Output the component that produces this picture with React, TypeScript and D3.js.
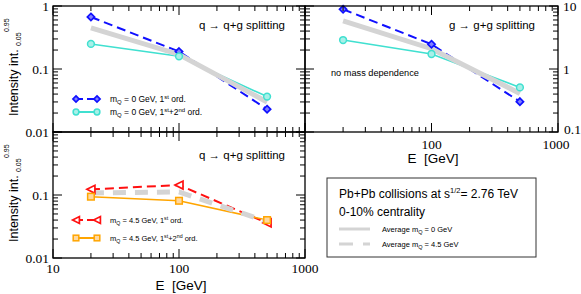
import React from "react";
import * as d3 from "d3";

const energies = [20, 100, 500];
const qgFirst = [0.67, 0.189, 0.023];
const qgFull = [0.25, 0.159, 0.0365];
const qgAvg = [0.45, 0.17, 0.03];
const ggFirst = [8.87, 2.47, 0.303];
const ggFull = [2.88, 1.73, 0.51];
const ggAvg = [5.8, 2.1, 0.41];
const hqFirst = [0.123, 0.144, 0.036];
const hqFull = [0.094, 0.081, 0.04];
const hqAvg = [0.108, 0.112, 0.038];

const xTickLabels = ["10", "100", "1000"];
const yTickLabelsQ = ["0.01", "0.1", "1"];
const yTickLabelsG = ["0.1", "1", "10"];

const SANS = "Liberation Sans, Arial, sans-serif";
const SERIF = "Liberation Serif, Times New Roman, serif";
const BLUE = "#1010ff";
const CYAN = "#40e0d0";
const RED = "#ff1010";
const ORANGE = "#ffa500";
const GRAY = "#d4d4d4";

type Box = { x0: number; x1: number; y0: number; y1: number; ylo: number; yhi: number };

function logTicks(lo: number, hi: number) {
  const major: number[] = [];
  const minor: number[] = [];
  for (let d = Math.round(Math.log10(lo)); d <= Math.round(Math.log10(hi)); d++) {
    const base = Math.pow(10, d);
    major.push(base);
    if (base < hi) for (let k = 2; k <= 9; k++) minor.push(base * k);
  }
  return { major, minor };
}

function Frame({ b }: { b: Box }) {
  const x = d3.scaleLog().domain([10, 1000]).range([b.x0, b.x1]);
  const y = d3.scaleLog().domain([b.ylo, b.yhi]).range([b.y1, b.y0]);
  const xt = logTicks(10, 1000);
  const yt = logTicks(b.ylo, b.yhi);
  const M = 9, m = 5;
  const lines: JSX.Element[] = [];
  const push = (k: string, x1: number, y1: number, x2: number, y2: number) =>
    lines.push(<line key={k} x1={x1} y1={y1} x2={x2} y2={y2} stroke="#000" strokeWidth={1} />);
  xt.major.concat(xt.minor).forEach((v, i) => {
    const L = xt.major.includes(v) ? M : m;
    const px = x(v);
    push("xb" + i, px, b.y1, px, b.y1 - L);
    push("xt" + i, px, b.y0, px, b.y0 + L);
  });
  yt.major.concat(yt.minor).forEach((v, i) => {
    const L = yt.major.includes(v) ? M : m;
    const py = y(v);
    push("yl" + i, b.x0, py, b.x0 + L, py);
    push("yr" + i, b.x1, py, b.x1 - L, py);
  });
  return (
    <g>
      <rect x={b.x0} y={b.y0} width={b.x1 - b.x0} height={b.y1 - b.y0} fill="none" stroke="#000" strokeWidth={1.3} />
      {lines}
    </g>
  );
}

function Marker({ kind, cx, cy, color, k = 1 }: { kind: string; cx: number; cy: number; color: string; k?: number }) {
  if (kind === "diamond") {
    const s = 3.6 * k;
    return <polygon points={`${cx},${cy - s} ${cx + s},${cy} ${cx},${cy + s} ${cx - s},${cy}`} fill="#8080ff" stroke={color} strokeWidth={1.7} />;
  }
  if (kind === "circle") return <circle cx={cx} cy={cy} r={3.4 * k} fill="#a8f0e8" stroke={color} strokeWidth={1.5} />;
  if (kind === "tri") {
    const s = 4 * k;
    return <polygon points={`${cx - s},${cy} ${cx + s},${cy - s} ${cx + s},${cy + s}`} fill="#fff" stroke={color} strokeWidth={1.7} />;
  }
  const s = 3.3 * k;
  return <rect x={cx - s} y={cy - s} width={2 * s} height={2 * s} fill="#ffd8a0" stroke={color} strokeWidth={1.5} />;
}

function Series({ b, vals, color, dash, width, marker }: { b: Box; vals: number[]; color: string; dash?: string; width: number; marker?: string }) {
  const x = d3.scaleLog().domain([10, 1000]).range([b.x0, b.x1]);
  const y = d3.scaleLog().domain([b.ylo, b.yhi]).range([b.y1, b.y0]);
  const pts: [number, number][] = energies.map((e, i) => [x(e), y(vals[i])]);
  const line = d3.line()(pts) || "";
  return (
    <g>
      {width > 0 && <path d={line} fill="none" stroke={color} strokeWidth={width} strokeDasharray={dash} />}
      {marker && pts.map((p, i) => <Marker key={i} kind={marker} cx={p[0]} cy={p[1]} color={color} />)}
    </g>
  );
}

function Legend({ x0, x1, yy, tx, color, dash, marker, mass, order, fs }: any) {
  return (
    <g>
      <line x1={x0} x2={x1} y1={yy} y2={yy} stroke={color} strokeWidth={2} strokeDasharray={dash} />
      <Marker kind={marker} cx={x0} cy={yy} color={color} k={0.85} />
      <Marker kind={marker} cx={x1} cy={yy} color={color} k={0.85} />
      <text x={tx} y={yy + 3} fontFamily={SANS} fontSize={fs} fill="#000">
        <tspan>m</tspan>
        <tspan dy={2} fontSize={fs * 0.7}>Q</tspan>
        <tspan dy={-2}>{` = ${mass} GeV, 1`}</tspan>
        <tspan dy={-3.5} fontSize={fs * 0.7}>st</tspan>
        {order === 2 ? (
          <>
            <tspan dy={3.5}>+2</tspan>
            <tspan dy={-3.5} fontSize={fs * 0.7}>nd</tspan>
            <tspan dy={3.5}> ord.</tspan>
          </>
        ) : (
          <tspan dy={3.5}> ord.</tspan>
        )}
      </text>
    </g>
  );
}

function YLabel({ yStart }: { yStart: number }) {
  return (
    <g>
      <text transform={`translate(18,${yStart}) rotate(-90)`} fontFamily={SANS} fontSize={12.5}>Intensity int.</text>
      <text transform={`translate(20.5,${yStart - 70}) rotate(-90)`} fontFamily={SANS} fontSize={7}>0.05</text>
      <text transform={`translate(8.5,${yStart - 84}) rotate(-90)`} fontFamily={SANS} fontSize={7}>0.95</text>
    </g>
  );
}

export default function App() {
  const tl: Box = { x0: 53, x1: 305, y0: 6, y1: 132, ylo: 0.01, yhi: 1 };
  const tr: Box = { x0: 305, x1: 558, y0: 6, y1: 132, ylo: 0.1, yhi: 10 };
  const bl: Box = { x0: 53, x1: 305, y0: 132, y1: 258, ylo: 0.01, yhi: 1 };
  const xs = (b: Box) => d3.scaleLog().domain([10, 1000]).range([b.x0, b.x1]);
  const ys = (b: Box) => d3.scaleLog().domain([b.ylo, b.yhi]).range([b.y1, b.y0]);
  const yvals = [0.01, 0.1, 1];
  const gvals = [0.1, 1, 10];
  const xvals = [10, 100, 1000];
  return (
    <svg width={581} height={294} style={{ position: "absolute", left: 0, top: 0, background: "#fff" }}>
      <rect width={581} height={294} fill="#fff" />
      {/* top-left */}
      <Series b={tl} vals={qgFirst} color={BLUE} dash="9,5" width={2} />
      <Series b={tl} vals={qgFull} color={CYAN} width={1.6} />
      <Series b={tl} vals={qgAvg} color={GRAY} width={5} />
      <Series b={tl} vals={qgFirst} color={BLUE} width={0} marker="diamond" />
      <Series b={tl} vals={qgFull} color={CYAN} width={0} marker="circle" />
      {/* top-right */}
      <Series b={tr} vals={ggFirst} color={BLUE} dash="9,5" width={2} />
      <Series b={tr} vals={ggFull} color={CYAN} width={1.6} />
      <Series b={tr} vals={ggAvg} color={GRAY} width={5} />
      <Series b={tr} vals={ggFirst} color={BLUE} width={0} marker="diamond" />
      <Series b={tr} vals={ggFull} color={CYAN} width={0} marker="circle" />
      {/* bottom-left */}
      <Series b={bl} vals={hqFirst} color={RED} dash="9,5" width={2} />
      <Series b={bl} vals={hqFull} color={ORANGE} width={1.6} />
      <Series b={bl} vals={hqAvg} color={GRAY} width={5} dash="13,9" />
      <Series b={bl} vals={hqFirst} color={RED} width={0} marker="tri" />
      <Series b={bl} vals={hqFull} color={ORANGE} width={0} marker="square" />

      <Frame b={tl} />
      <Frame b={tr} />
      <Frame b={bl} />

      {/* y tick labels */}
      {yvals.map((v, i) => (
        <text key={"tl" + i} x={49} y={ys(tl)(v) + 5} textAnchor="end" fontFamily={SERIF} fontSize={13.5}>{yTickLabelsQ[i]}</text>
      ))}
      {yvals.slice(0, 2).map((v, i) => (
        <text key={"bl" + i} x={49} y={ys(bl)(v) + 5} textAnchor="end" fontFamily={SERIF} fontSize={13.5}>{yTickLabelsQ[i]}</text>
      ))}
      {gvals.map((v, i) => (
        <text key={"tr" + i} x={i === 0 ? 564 : 563} y={ys(tr)(v) + (i === 0 ? 2 : 5)} textAnchor="start" fontFamily={SERIF} fontSize={13.5}>{yTickLabelsG[i]}</text>
      ))}
      {/* x tick labels */}
      {xvals.map((v, i) => (
        <text key={"xb" + i} x={xs(bl)(v)} y={273} textAnchor="middle" fontFamily={SERIF} fontSize={13.5}>{xTickLabels[i]}</text>
      ))}
      {xvals.slice(1).map((v, i) => (
        <text key={"xt" + i} x={xs(tr)(v) - (i === 1 ? 2 : 0)} y={149} textAnchor="middle" fontFamily={SERIF} fontSize={13.5}>{xTickLabels[i + 1]}</text>
      ))}
      <text x={181} y={290} textAnchor="middle" fontFamily={SANS} fontSize={13.5}>{"E\u00a0\u00a0[GeV]"}</text>
      <text x={433} y={163} textAnchor="middle" fontFamily={SANS} fontSize={13.5}>{"E\u00a0\u00a0[GeV]"}</text>

      <YLabel yStart={116} />
      <YLabel yStart={242} />

      {/* titles */}
      <text x={199} y={29} fontFamily={SANS} fontSize={11.5}>q → q+g splitting</text>
      <text x={199} y={159} fontFamily={SANS} fontSize={11.5}>q → q+g splitting</text>
      <text x={449} y={29} fontFamily={SANS} fontSize={11.5}>g → g+g splitting</text>
      <text x={331} y={76} fontFamily={SANS} fontSize={9.2}>no mass dependence</text>

      {/* legends */}
      <Legend x0={76} x1={97} yy={99} tx={110} color={BLUE} dash="7,4" marker="diamond" mass="0" order={1} fs={8.5} />
      <Legend x0={76} x1={97} yy={112} tx={110} color={CYAN} marker="circle" mass="0" order={2} fs={8.5} />
      <Legend x0={76} x1={97} yy={220} tx={110} color={RED} dash="7,4" marker="tri" mass="4.5" order={1} fs={7.5} />
      <Legend x0={76} x1={97} yy={238} tx={110} color={ORANGE} marker="square" mass="4.5" order={2} fs={7.5} />

      {/* info box */}
      <rect x={327} y={178} width={209} height={79} fill="#fff" stroke="#333" strokeWidth={1} />
      <text x={339} y={198} fontFamily={SANS} fontSize={12}>
        <tspan>Pb+Pb collisions at s</tspan>
        <tspan dy={-5} fontSize={7.5}>1/2</tspan>
        <tspan dy={5}>= 2.76 TeV</tspan>
      </text>
      <text x={339} y={216} fontFamily={SANS} fontSize={12}>0-10% centrality</text>
      <line x1={339} x2={370} y1={229} y2={229} stroke={GRAY} strokeWidth={3} />
      <line x1={339} x2={370} y1={244} y2={244} stroke={GRAY} strokeWidth={3} strokeDasharray="14,10" />
      <text x={382} y={232} fontFamily={SANS} fontSize={7.5}>
        <tspan>Average m</tspan>
        <tspan dy={2} fontSize={5.5}>Q</tspan>
        <tspan dy={-2}> = 0 GeV</tspan>
      </text>
      <text x={382} y={247} fontFamily={SANS} fontSize={7.5}>
        <tspan>Average m</tspan>
        <tspan dy={2} fontSize={5.5}>Q</tspan>
        <tspan dy={-2}> = 4.5 GeV</tspan>
      </text>
    </svg>
  );
}
